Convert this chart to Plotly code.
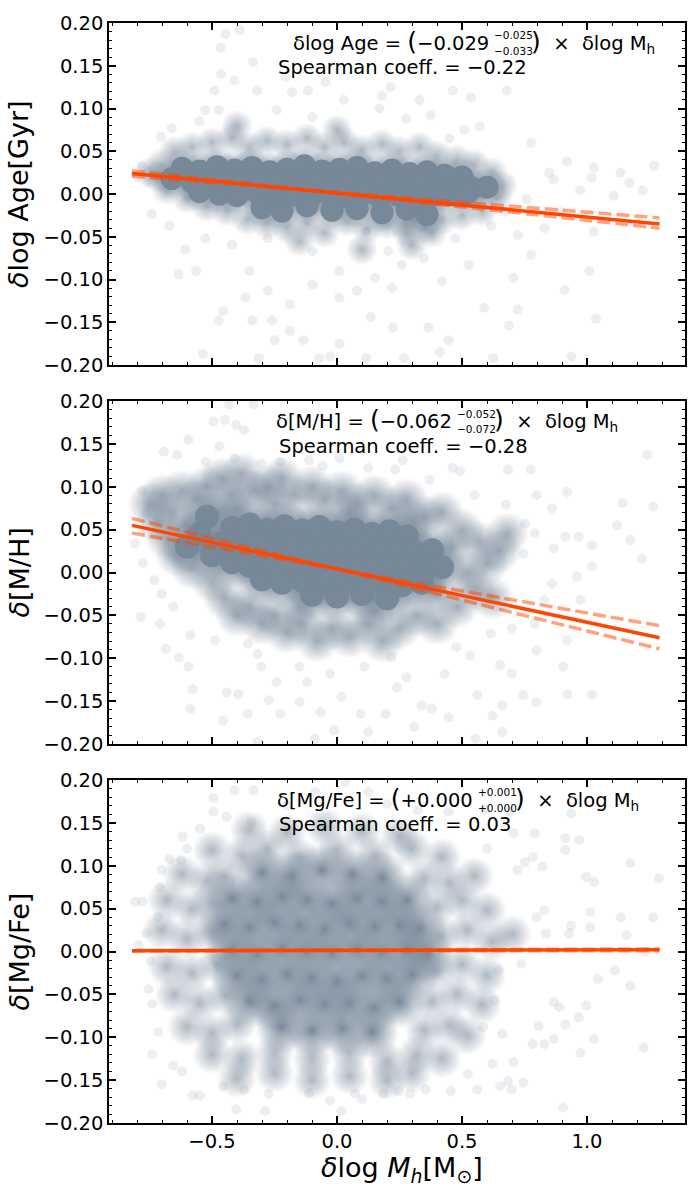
import plotly.graph_objects as go

# axis ticks
x_tickvals = [-0.5, 0.0, 0.5, 1.0]
x_ticktext = ["−0.5", "0.0", "0.5", "1.0"]
y_tickvals = [-0.2, -0.15, -0.1, -0.05, 0.0, 0.05, 0.1, 0.15, 0.2]
y_ticktext = ["−0.20", "−0.15", "−0.10", "−0.05", "0.00", "0.05", "0.10", "0.15", "0.20"]

# fitted relations (end points)
fit_x = [-0.82, 1.29]
age_fit = [0.024, -0.035]
age_fit_lo = [0.021, -0.028]
age_fit_hi = [0.027, -0.040]
mh_fit = [0.055, -0.076]
mh_fit_lo = [0.046, -0.062]
mh_fit_hi = [0.063, -0.089]
mgfe_fit = [0.001, 0.002]
mgfe_fit_lo = [0.001, 0.001]
mgfe_fit_hi = [0.001, 0.003]

# ---- panel 1 : delta log Age
age_core = [(-0.62, 0.030), (-0.55, 0.027), (-0.48, 0.032), (-0.41, 0.028), (-0.34, 0.031), (-0.27, 0.026),
            (-0.20, 0.029), (-0.13, 0.033), (-0.06, 0.027), (0.01, 0.029), (0.08, 0.031), (0.15, 0.025),
            (0.22, 0.028), (0.29, 0.024), (0.36, 0.026), (0.43, 0.022), (0.50, 0.020),
            (-0.66, 0.018), (-0.58, 0.014), (-0.51, 0.016), (-0.44, 0.012), (-0.37, 0.015), (-0.30, 0.012),
            (-0.23, 0.014), (-0.16, 0.010), (-0.09, 0.013), (-0.02, 0.011), (0.05, 0.014), (0.12, 0.010),
            (0.19, 0.012), (0.26, 0.009), (0.33, 0.011), (0.40, 0.008), (0.47, 0.010), (0.54, 0.007), (0.60, 0.008),
            (-0.55, 0.003), (-0.47, 0.000), (-0.40, -0.002), (-0.32, 0.002), (-0.25, -0.002), (-0.18, -0.001),
            (-0.11, -0.004), (-0.04, 0.001), (0.03, -0.003), (0.10, 0.000), (0.17, -0.003), (0.24, -0.001),
            (0.31, -0.005), (0.38, -0.002), (0.45, -0.001), (0.52, 0.001),
            (-0.30, -0.016), (-0.22, -0.020), (-0.12, -0.014), (-0.02, -0.019), (0.08, -0.017), (0.18, -0.022),
            (0.28, -0.018), (0.36, -0.024)]
age_mid = [(-0.70, 0.035), (-0.72, 0.020), (-0.65, 0.050), (-0.58, 0.055), (-0.50, 0.060), (-0.42, 0.065),
           (-0.35, 0.055), (-0.28, 0.062), (-0.20, 0.058), (-0.12, 0.065), (-0.05, 0.055), (0.03, 0.060),
           (0.10, 0.052), (0.18, 0.058), (0.25, 0.050), (0.33, 0.055), (0.40, 0.045), (0.48, 0.040),
           (0.55, 0.035), (0.62, 0.025), (0.66, 0.010), (0.64, -0.005), (0.58, -0.020), (0.50, -0.025),
           (0.42, -0.030), (0.35, -0.040), (0.28, -0.045), (0.20, -0.035), (0.12, -0.040), (0.04, -0.032),
           (-0.05, -0.045), (-0.12, -0.035), (-0.20, -0.040), (-0.28, -0.035), (-0.36, -0.030), (-0.44, -0.020),
           (-0.52, -0.015), (-0.60, -0.005), (-0.68, 0.005), (-0.75, 0.025), (0.30, -0.060), (-0.15, -0.055),
           (0.10, -0.065), (0.32, -0.030), (0.38, -0.045), (0.27, -0.035), (-0.40, 0.080), (0.00, 0.075)]
age_halo = [(-0.446, 0.187), (-0.39, 0.192), (-0.464, 0.171), (-0.336, 0.154), (-0.464, 0.14), (-0.41, 0.133),
            (-0.32, 0.121), (-0.49, 0.121), (-0.205, 0.137), (-0.18, 0.119), (-0.045, 0.131), (0.027, 0.11),
            (-0.116, 0.121), (0.179, 0.115), (0.214, 0.125), (0.464, 0.121), (0.679, 0.121), (0.33, 0.11),
            (0.17, 0.10), (0.536, 0.113), (-0.527, 0.098), (-0.473, 0.098), (-0.241, 0.098), (-0.098, 0.09),
            (0.277, 0.088), (0.375, 0.092), (-0.705, 0.067), (-0.661, 0.077), (0.571, 0.079), (0.509, 0.075),
            (0.777, 0.06), (0.92, 0.038), (1.027, 0.031), (1.268, 0.033), (1.134, 0.025), (1.17, 0.013),
            (1.223, 0.004), (1.018, 0.019), (0.848, 0.025), (0.973, 0.004), (1.107, -0.002), (1.027, -0.044),
            (0.893, -0.021), (0.83, -0.04), (0.723, -0.048), (0.777, -0.071), (1.009, -0.09), (0.911, -0.112),
            (1.036, -0.146), (0.938, -0.19), (0.625, -0.192), (0.688, -0.154), (0.723, -0.135), (0.589, -0.133),
            (0.705, -0.098), (0.527, -0.083), (0.42, -0.102), (0.446, -0.171), (0.411, -0.185), (0.366, -0.156),
            (0.268, -0.192), (0.223, -0.156), (0.134, -0.144), (0.116, -0.192), (0.009, -0.175), (-0.027, -0.19),
            (-0.071, -0.192), (-0.134, -0.171), (-0.188, -0.16), (-0.25, -0.171), (-0.313, -0.192), (-0.259, -0.148),
            (-0.339, -0.148), (-0.366, -0.121), (-0.277, -0.113), (-0.188, -0.129), (-0.098, -0.106), (0.009, -0.121),
            (0.08, -0.113), (0.152, -0.098), (0.259, -0.083), (0.348, -0.075), (0.205, -0.067), (-0.455, -0.137),
            (-0.473, -0.148), (-0.536, -0.187), (-0.634, -0.094), (-0.563, -0.09), (-0.607, -0.065), (-0.741, -0.023),
            (-0.67, -0.037), (-0.527, -0.052), (-0.42, -0.06), (-0.277, -0.052), (-0.098, -0.067), (0.009, -0.09),
            (0.116, -0.044), (0.473, -0.052), (0.616, -0.037), (0.866, 0.017), (0.759, -0.006), (0.67, -0.021),
            (-0.80, 0.020), (-0.78, 0.032), (-0.55, 0.085), (0.45, 0.065), (-0.35, -0.09), (0.22, -0.11)]

# ---- panel 2 : delta [M/H]
mh_core = [(-0.42, 0.052), (-0.35, 0.056), (-0.28, 0.050), (-0.21, 0.054), (-0.14, 0.049), (-0.07, 0.053),
           (0.00, 0.047), (0.07, 0.050), (0.14, 0.045), (0.21, 0.048), (0.28, 0.042),
           (-0.46, 0.034), (-0.39, 0.030), (-0.32, 0.033), (-0.25, 0.029), (-0.18, 0.032), (-0.11, 0.028),
           (-0.04, 0.031), (0.03, 0.027), (0.10, 0.030), (0.17, 0.026), (0.24, 0.028), (0.31, 0.024), (0.38, 0.026),
           (-0.42, 0.012), (-0.35, 0.008), (-0.28, 0.011), (-0.21, 0.007), (-0.14, 0.010), (-0.07, 0.006),
           (0.00, 0.009), (0.07, 0.005), (0.14, 0.008), (0.21, 0.004), (0.28, 0.007), (0.35, 0.003), (0.42, 0.006),
           (-0.30, -0.008), (-0.22, -0.012), (-0.14, -0.009), (-0.06, -0.013), (0.02, -0.010), (0.10, -0.014),
           (0.18, -0.011), (0.26, -0.015), (0.34, -0.012),
           (-0.10, -0.026), (0.00, -0.028), (0.10, -0.025), (0.20, -0.030),
           (-0.55, 0.045), (-0.60, 0.030), (-0.52, 0.065), (-0.50, 0.020)]
mh_mid = [(-0.75, 0.080), (-0.72, 0.060), (-0.70, 0.090), (-0.68, 0.040), (-0.66, 0.070), (-0.64, 0.020),
          (-0.62, 0.095), (-0.60, 0.055), (-0.58, 0.005), (-0.56, 0.085), (-0.54, 0.035), (-0.52, 0.100),
          (-0.50, -0.010), (-0.48, 0.070), (-0.46, 0.110), (-0.45, -0.030), (-0.42, 0.090), (-0.40, -0.050),
          (-0.38, 0.115), (-0.35, -0.040), (-0.33, 0.095), (-0.30, -0.060), (-0.28, 0.100), (-0.25, -0.050),
          (-0.22, 0.110), (-0.20, -0.070), (-0.17, 0.090), (-0.14, -0.060), (-0.10, 0.100), (-0.08, -0.080),
          (-0.05, 0.085), (-0.02, -0.065), (0.02, 0.095), (0.05, -0.075), (0.08, 0.080), (0.12, -0.060),
          (0.15, 0.090), (0.18, -0.080), (0.22, 0.075), (0.25, -0.065), (0.28, 0.085), (0.32, -0.050),
          (0.35, 0.065), (0.40, -0.060), (0.42, 0.070), (0.46, 0.030), (0.48, -0.040), (0.50, 0.050),
          (0.52, 0.000), (0.55, -0.020), (0.57, 0.035), (0.60, 0.010), (0.62, -0.030), (0.65, 0.025),
          (0.68, 0.045), (-0.40, 0.075), (-0.25, 0.080), (0.05, 0.070), (0.30, 0.060), (-0.15, -0.040),
          (0.15, -0.045), (0.40, -0.025)]
mh_halo = [(-0.433, 0.196), (-0.334, 0.196), (-0.494, 0.176), (-0.448, 0.178), (-0.403, 0.172), (-0.372, 0.166),
           (-0.594, 0.155), (-0.471, 0.147), (-0.693, 0.141), (-0.64, 0.137), (-0.525, 0.129), (-0.41, 0.133),
           (-0.303, 0.127), (-0.227, 0.129), (-0.112, 0.131), (-0.058, 0.124), (0.01, 0.133), (0.125, 0.122),
           (0.263, 0.131), (0.232, 0.12), (0.37, 0.108), (0.462, 0.122), (0.492, 0.118), (0.684, 0.12),
           (0.775, 0.12), (1.242, 0.137), (0.921, 0.094), (1.142, 0.081), (1.265, 0.077), (1.173, 0.038),
           (1.12, 0.055), (1.02, 0.032), (1.219, 0.016), (0.967, 0.042), (0.913, 0.042), (0.867, 0.028),
           (0.959, -0.005), (1.02, 0.007), (0.798, 0.09), (0.86, 0.075), (0.752, 0.057), (0.791, 0.046),
           (0.676, 0.079), (0.745, 0.022), (0.86, -0.013), (0.829, -0.032), (0.974, -0.032), (0.791, -0.06),
           (0.699, -0.065), (0.921, -0.079), (0.798, -0.091), (0.905, -0.11), (0.921, -0.142), (1.02, -0.143),
           (0.798, -0.151), (0.745, -0.143), (0.661, -0.155), (0.653, -0.108), (0.699, -0.118), (0.531, -0.097),
           (0.561, -0.143), (0.622, -0.167), (0.661, -0.186), (0.554, -0.194), (0.446, -0.169), (0.378, -0.159),
           (0.309, -0.18), (0.339, -0.155), (0.24, -0.134), (0.194, -0.165), (0.125, -0.186), (0.095, -0.165),
           (0.018, -0.145), (-0.012, -0.184), (-0.089, -0.194), (-0.066, -0.163), (-0.15, -0.151), (-0.12, -0.128),
           (-0.227, -0.165), (-0.273, -0.149), (-0.318, -0.198), (-0.357, -0.165), (-0.395, -0.142), (-0.456, -0.173),
           (-0.586, -0.159), (-0.578, -0.136), (-0.441, -0.14), (-0.303, -0.11), (-0.242, -0.128), (-0.318, -0.095),
           (-0.357, -0.083), (-0.594, -0.11), (-0.632, -0.099), (-0.685, -0.089), (-0.708, -0.06), (-0.785, -0.052),
           (-0.655, -0.04), (-0.586, -0.073), (-0.487, -0.079), (-0.808, 0.034), (-0.777, 0.011), (-0.731, -0.009),
           (-0.701, -0.025), (-0.15, -0.11), (-0.028, -0.118), (0.11, -0.11), (0.217, -0.099), (0.278, -0.122),
           (0.431, -0.118), (0.477, -0.087), (0.615, -0.071), (-0.78, 0.095), (-0.76, 0.07), (0.55, 0.09)]

# ---- panel 3 : delta [Mg/Fe]
mgfe_core = [(-0.30, 0.092), (-0.18, 0.088), (-0.06, 0.095), (0.06, 0.090), (0.18, 0.086),
             (-0.42, 0.062), (-0.32, 0.058), (-0.22, 0.064), (-0.12, 0.060), (-0.02, 0.056), (0.08, 0.062),
             (0.18, 0.058), (0.28, 0.060),
             (-0.45, 0.032), (-0.35, 0.028), (-0.25, 0.034), (-0.15, 0.030), (-0.05, 0.026), (0.05, 0.033),
             (0.15, 0.029), (0.25, 0.031), (0.33, 0.027),
             (-0.42, 0.002), (-0.32, -0.003), (-0.22, 0.004), (-0.12, 0.000), (-0.02, -0.002), (0.08, 0.003),
             (0.18, -0.001), (0.28, 0.002), (0.36, -0.004),
             (-0.40, -0.028), (-0.30, -0.033), (-0.20, -0.027), (-0.10, -0.031), (0.00, -0.035), (0.10, -0.029),
             (0.20, -0.032), (0.30, -0.027),
             (-0.35, -0.058), (-0.25, -0.063), (-0.15, -0.057), (-0.05, -0.062), (0.05, -0.060), (0.15, -0.065),
             (0.25, -0.058),
             (-0.22, -0.088), (-0.10, -0.092), (0.02, -0.090), (0.14, -0.094)]
mgfe_mid = [(-0.35, 0.142), (-0.20, 0.138), (-0.05, 0.145), (0.10, 0.140), (0.25, 0.135),
            (-0.50, 0.118), (-0.38, 0.112), (-0.28, 0.120), (-0.15, 0.110), (0.00, 0.118), (0.15, 0.112),
            (0.30, 0.120), (0.42, 0.110),
            (-0.62, 0.090), (-0.52, 0.082), (-0.45, 0.088), (0.35, 0.085), (0.45, 0.080), (0.55, 0.088),
            (-0.68, 0.060), (-0.58, 0.050), (-0.50, 0.058), (0.40, 0.052), (0.50, 0.060), (0.60, 0.048),
            (-0.70, 0.025), (-0.60, 0.015), (-0.50, 0.022), (0.42, 0.018), (0.52, 0.025), (0.62, 0.012), (0.70, 0.020),
            (-0.68, -0.018), (-0.58, -0.025), (-0.48, -0.015), (0.40, -0.022), (0.50, -0.015), (0.60, -0.028),
            (-0.65, -0.050), (-0.55, -0.060), (-0.45, -0.052), (0.38, -0.058), (0.48, -0.050), (0.58, -0.062),
            (-0.60, -0.088), (-0.50, -0.095), (-0.40, -0.085), (0.35, -0.092), (0.45, -0.086), (0.52, -0.098),
            (-0.50, -0.120), (-0.38, -0.125), (-0.25, -0.118), (-0.10, -0.125), (0.05, -0.118), (0.20, -0.128),
            (0.32, -0.120), (0.42, -0.125),
            (-0.40, -0.148), (-0.25, -0.142), (-0.10, -0.150), (0.05, -0.145), (0.20, -0.150), (0.30, -0.142)]
mgfe_halo = [(-0.494, 0.179), (-0.41, 0.188), (-0.334, 0.188), (-0.494, 0.163), (-0.441, 0.157), (-0.342, 0.151),
             (-0.548, 0.143), (-0.617, 0.134), (-0.67, 0.108), (-0.701, 0.095), (-0.624, 0.106), (-0.709, 0.075),
             (-0.808, 0.058), (-0.777, 0.058), (-0.716, 0.04), (-0.762, 0.021), (-0.793, 0.007), (-0.746, -0.011),
             (-0.754, -0.044), (-0.739, -0.061), (-0.716, -0.094), (-0.739, -0.12), (-0.701, -0.155), (-0.655, -0.133),
             (-0.578, -0.168), (-0.548, -0.168), (-0.403, -0.184), (-0.288, -0.186), (-0.273, -0.166), (-0.456, -0.157),
             (-0.372, -0.161), (-0.112, -0.165), (-0.028, -0.174), (0.018, -0.186), (0.072, -0.166), (0.186, -0.166),
             (0.247, -0.163), (0.293, -0.166), (0.355, -0.161), (0.454, -0.163), (0.561, -0.161), (0.699, -0.161),
             (0.684, -0.151), (0.905, -0.182), (0.745, -0.153), (0.653, -0.157), (0.622, -0.131), (0.523, -0.143),
             (0.706, -0.129), (0.783, -0.108), (0.829, -0.108), (0.867, -0.102), (0.974, -0.118), (1.028, -0.102),
             (1.227, -0.112), (0.806, -0.087), (0.913, -0.085), (0.967, -0.077), (0.89, -0.065), (0.867, -0.059),
             (0.997, -0.063), (1.043, -0.032), (1.173, -0.04), (1.112, -0.022), (1.234, 0.0), (1.158, 0.019),
             (1.135, 0.04), (1.265, 0.04), (1.012, 0.046), (1.012, 0.028), (0.936, 0.03), (0.928, 0.021),
             (0.836, 0.021), (0.798, 0.04), (0.829, 0.048), (1.028, 0.081), (0.997, 0.087), (1.173, 0.103),
             (1.288, 0.085), (0.967, 0.13), (0.913, 0.132), (0.913, 0.118), (0.783, 0.11), (0.821, 0.099),
             (0.752, 0.104), (0.722, 0.095), (0.706, 0.138), (0.791, 0.138), (0.936, 0.161), (0.691, 0.163),
             (0.592, 0.165), (0.446, 0.163), (0.324, 0.165), (0.033, 0.198), (0.125, 0.186), (-0.089, 0.186),
             (0.645, -0.022), (0.737, -0.014), (0.63, -0.057), (0.584, -0.088), (0.661, -0.096),
             (-0.20, 0.170), (0.20, 0.172), (-0.60, 0.120), (0.60, 0.120), (-0.62, -0.140), (0.10, -0.172)]

POINT_COLOR = "#778899"
FADE = "rgba(119,136,153,0)"
FIT_COLOR = "#ff4500"
FONT = "DejaVu Sans"
PAREN = "<span style='font-size:25px'>{}</span>"
NB = "\u00a0"

# marker layers per panel: (which points, size, opacity, soft edge)
panels = [
    dict(pts=dict(core=age_core, mid=age_mid, halo=age_halo), fit=age_fit, lo=age_fit_lo, hi=age_fit_hi,
         ytitle="<i>δ</i>log Age[Gyr]",
         eq=("δlog Age = " + PAREN.format("(") + "−0.029", "−0.025", "−0.033"),
         spear="Spearman coeff. = −0.22", pos=(276, 492),
         layers=(("halo", 10, 0.14, False), ("mid", 32, 0.6, True),
                 ("core", 40, 1.0, True), ("core", 23, 1.0, False))),
    dict(pts=dict(core=mh_core, mid=mh_mid, halo=mh_halo), fit=mh_fit, lo=mh_fit_lo, hi=mh_fit_hi,
         ytitle="<i>δ</i>[M/H]",
         eq=("δ[M/H] = " + PAREN.format("(") + "−0.062", "−0.052", "−0.072"),
         spear="Spearman coeff. = −0.28", pos=(277, 455),
         layers=(("halo", 10, 0.14, False), ("mid", 44, 0.7, True),
                 ("core", 52, 1.0, True), ("core", 24, 1.0, False))),
    dict(pts=dict(core=mgfe_core, mid=mgfe_mid, halo=mgfe_halo), fit=mgfe_fit, lo=mgfe_fit_lo, hi=mgfe_fit_hi,
         ytitle="<i>δ</i>[Mg/Fe]",
         eq=("δ[Mg/Fe] = " + PAREN.format("(") + "+0.000", "+0.001", "+0.000"),
         spear="Spearman coeff. = 0.03", pos=(277, 476),
         layers=(("halo", 10, 0.14, False), ("mid", 40, 0.6, True), ("core", 54, 1.0, True))),
]

# layout geometry in pixels (figure 700 x 1200)
W, H = 700, 1200
L, R, T, B = 109, 15, 23, 77
PW, PH = W - L - R, H - T - B
panel_px = [(23, 365), (401, 744), (780, 1123)]


def px_x(px):
    return (px - L) / PW


def px_y(px):
    return (H - B - px) / PH


fig = go.Figure()
annotations = []

for i, p in enumerate(panels):
    n = "" if i == 0 else str(i + 1)
    xa, ya = "x" + n, "y" + n
    for key, size, op, soft in p["layers"]:
        pts = p["pts"][key]
        marker = dict(size=size, color=POINT_COLOR, opacity=op, line=dict(width=0))
        if soft:
            # radial fill: full colour in the centre, fading out at the rim
            marker.update(color=FADE, gradient=dict(type="radial", color=POINT_COLOR))
        fig.add_trace(go.Scatter(x=[a for a, b in pts], y=[b for a, b in pts], mode="markers",
                                 marker=marker, xaxis=xa, yaxis=ya, showlegend=False, hoverinfo="skip"))
    for ys in (p["lo"], p["hi"]):
        fig.add_trace(go.Scatter(x=fit_x, y=ys, mode="lines",
                                 line=dict(color="rgba(255,69,0,0.5)", width=3.5, dash="13px,5px"),
                                 xaxis=xa, yaxis=ya, showlegend=False, hoverinfo="skip"))
    fig.add_trace(go.Scatter(x=fit_x, y=p["fit"], mode="lines", line=dict(color=FIT_COLOR, width=3.5),
                             xaxis=xa, yaxis=ya, showlegend=False, hoverinfo="skip"))

    top, bot = panel_px[i]
    fig.update_layout({
        "xaxis" + n: dict(domain=[0, 1], anchor=ya, range=[-0.912, 1.392],
                          tickmode="array", tickvals=x_tickvals, ticktext=x_ticktext,
                          showticklabels=(i == 2), ticks="inside", ticklen=7, tickwidth=1.5,
                          tickcolor="black", showline=True, linecolor="black", linewidth=1.5,
                          mirror="allticks", showgrid=False, zeroline=False,
                          minor=dict(ticks="inside", ticklen=3.5, tickwidth=1.2, tickcolor="black",
                                     tickmode="linear", tick0=0, dtick=0.1),
                          tickfont=dict(family=FONT, size=19.5, color="black"),
                          **({} if i == 0 else {"matches": "x"})),
        "yaxis" + n: dict(domain=[px_y(bot), px_y(top)], anchor=xa, range=[-0.2, 0.2],
                          tickmode="array", tickvals=y_tickvals, ticktext=y_ticktext,
                          ticks="inside", ticklen=7, tickwidth=1.5, tickcolor="black",
                          showline=True, linecolor="black", linewidth=1.5, mirror="allticks",
                          showgrid=False, zeroline=False,
                          minor=dict(ticks="inside", ticklen=3.5, tickwidth=1.2, tickcolor="black",
                                     tickmode="linear", tick0=0, dtick=0.01),
                          tickfont=dict(family=FONT, size=19.5, color="black")),
    })

    x0, xs = p["pos"]
    main, sup, sub = p["eq"]
    f = dict(family=FONT, size=19.5, color="black")
    fs = dict(family=FONT, size=10.5, color="black")
    annotations += [
        dict(text=main, x=px_x(xs - 1), y=px_y(top + 18.5), xanchor="right", yanchor="middle", font=f),
        dict(text=sup, x=px_x(xs), y=px_y(top + 12.5), xanchor="left", yanchor="middle", font=fs),
        dict(text=sub, x=px_x(xs), y=px_y(top + 27.5), xanchor="left", yanchor="middle", font=fs),
        dict(text=PAREN.format(")") + NB * 2 + "×" + NB * 2 + "δlog M<sub>h</sub>", x=px_x(xs + 37),
             y=px_y(top + 18.5), xanchor="left", yanchor="middle", font=f),
        dict(text=p["spear"], x=px_x(x0), y=px_y(top + 45), xanchor="left", yanchor="middle", font=f),
        dict(text=p["ytitle"], x=px_x(19), y=px_y((top + bot) / 2), xanchor="center", yanchor="middle",
             textangle=-90, font=dict(family=FONT, size=27, color="black")),
    ]

annotations.append(dict(text="<i>δ</i>log <i>M<sub>h</sub></i>[M<sub>⊙</sub>]", x=px_x(402), y=px_y(1169),
                        xanchor="center", yanchor="middle", font=dict(family=FONT, size=27, color="black")))
for a in annotations:
    a.update(xref="paper", yref="paper", showarrow=False)

fig.update_layout(width=W, height=H, margin=dict(l=L, r=R, t=T, b=B),
                  paper_bgcolor="white", plot_bgcolor="white", annotations=annotations,
                  font=dict(family=FONT, color="black"), hovermode=False)

# drop the page's default body margin so the figure sits at the window's corner
fig.write_html("out.html", config={"displayModeBar": False},
               post_script="document.body.style.margin='0px';")
